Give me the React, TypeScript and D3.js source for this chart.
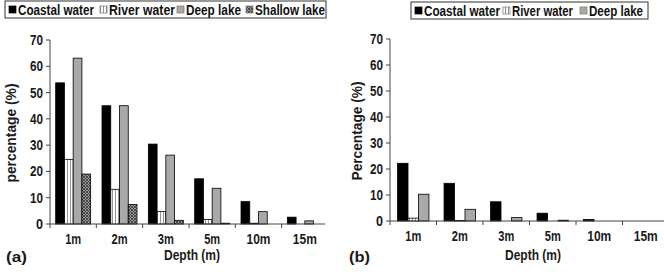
import React from "react";
import * as d3 from "d3";

const depths = ["1m", "2m", "3m", "5m", "10m", "15m"];
const yTicks = [0, 10, 20, 30, 40, 50, 60, 70];

// Panel (a)
const seriesA = ["Coastal water", "River water", "Deep lake", "Shallow lake"];
const coastalA = [53.7, 45, 30.4, 17.2, 8.5, 2.6];
const riverA = [24.6, 13.2, 4.7, 1.7, 0.3, 0];
const deepA = [63.1, 45, 26.2, 13.6, 4.7, 1.2];
const shallowA = [19, 7.4, 1.4, 0.3, 0, 0];

// Panel (b)
const seriesB = ["Coastal water", "River water", "Deep lake"];
const coastalB = [22.2, 14.5, 7.4, 3.0, 0.6, 0];
const riverB = [1.1, 0.2, 0, 0, 0, 0];
const deepB = [10.3, 4.5, 1.3, 0.3, 0, 0];

const FONT = "'Liberation Sans', Arial, sans-serif";

const fills: Record<string, string> = {
  "Coastal water": "#000",
  "River water": "url(#river)",
  "Deep lake": "#a9a9a9",
  "Shallow lake": "url(#shallow)",
};

type PanelProps = {
  series: string[];
  values: number[][];
  x0: number;
  x1: number;
  y0: number;
  yTop: number;
  axisEnd: number;
  yLabel: string;
  yLabelX: number;
  xLabelX: number;
  tag: string;
  tagX: number;
  pad: number;
};

function Panel(p: PanelProps) {
  const x = d3.scaleBand<string>().domain(depths).range([p.x0, p.x1]).padding(0);
  const sub = d3
    .scaleBand<string>()
    .domain(p.series)
    .range([0, x.bandwidth()])
    .paddingInner(0)
    .paddingOuter(p.pad);
  const y = d3.scaleLinear().domain([0, 70]).range([p.y0, p.yTop]);
  const boundaries = depths.map((d) => x(d) as number).concat([p.x1]);
  const txt = {
    fontFamily: FONT,
    fontWeight: "bold" as const,
    fill: "#1a1a1a",
  };
  return (
    <g>
      {depths.map((d, i) =>
        p.series.map((s, j) => {
          const v = p.values[j][i];
          const h = p.y0 - y(v);
          if (h <= 0) return null;
          return (
            <rect
              key={d + s}
              x={(x(d) as number) + (sub(s) as number)}
              y={y(v)}
              width={sub.bandwidth()}
              height={h}
              fill={fills[s]}
              stroke="#000"
              strokeWidth={0.8}
            />
          );
        })
      )}
      <line x1={p.x0} x2={p.x0} y1={p.yTop} y2={p.y0} stroke="#444" strokeWidth={1} />
      <line x1={p.x0} x2={p.axisEnd} y1={p.y0} y2={p.y0} stroke="#444" strokeWidth={1} />
      {yTicks.map((t) => (
        <g key={t}>
          <line x1={p.x0 - 4} x2={p.x0} y1={y(t)} y2={y(t)} stroke="#444" />
          <text
            {...txt}
            x={p.x0 - 7}
            y={y(t) + 5}
            textAnchor="end"
            fontSize={14}
            textLength={t === 0 ? 7 : 13}
            lengthAdjust="spacingAndGlyphs"
          >
            {t}
          </text>
        </g>
      ))}
      {boundaries
        .filter((b) => b <= p.axisEnd + 0.5)
        .map((b, i) => (
          <line key={i} x1={b} x2={b} y1={p.y0} y2={p.y0 + 4} stroke="#444" />
        ))}
      {depths.map((d) => (
        <text
          {...txt}
          key={d}
          x={(x(d) as number) + x.bandwidth() / 2}
          y={p.y0 + 20}
          textAnchor="middle"
          fontSize={14}
          textLength={d.length * 8}
          lengthAdjust="spacingAndGlyphs"
        >
          {d}
        </text>
      ))}
      <text
        {...txt}
        x={p.xLabelX}
        y={260}
        textAnchor="middle"
        fontSize={14}
        textLength={56}
        lengthAdjust="spacingAndGlyphs"
      >
        Depth (m)
      </text>
      <text {...txt} x={p.tagX} y={262} fontSize={15} textLength={21} lengthAdjust="spacingAndGlyphs">
        {p.tag}
      </text>
      <text
        {...txt}
        transform={`translate(${p.yLabelX},${(p.y0 + p.yTop) / 2 + 1}) rotate(-90)`}
        textAnchor="middle"
        fontSize={14}
        textLength={99}
        lengthAdjust="spacingAndGlyphs"
      >
        {p.yLabel}
      </text>
    </g>
  );
}

type LegendProps = {
  series: string[];
  x: number;
  y: number;
  w: number;
  xs: number[];
  lens: number[];
};

function Legend(l: LegendProps) {
  return (
    <g>
      <rect x={l.x} y={l.y} width={l.w} height={17} fill="#fff" stroke="#333" strokeWidth={1} />
      {l.series.map((s, i) => (
        <g key={s}>
          <rect
            x={l.xs[i]}
            y={l.y + 5}
            width={7}
            height={7}
            fill={fills[s]}
            stroke={s === "Coastal water" ? "#000" : "#777"}
            strokeWidth={0.7}
          />
          <text
            x={l.xs[i] + 9}
            y={l.y + 13.5}
            fontFamily={FONT}
            fontWeight="bold"
            fontSize={14}
            fill="#111"
            textLength={l.lens[i]}
            lengthAdjust="spacingAndGlyphs"
          >
            {s}
          </text>
        </g>
      ))}
    </g>
  );
}

export default function App() {
  return (
    <svg
      width={664}
      height={276}
      style={{ position: "absolute", left: 0, top: 0, background: "#fff" }}
    >
      <defs>
        <pattern id="river" width={3} height={4} patternUnits="userSpaceOnUse">
          <rect width={3} height={4} fill="#fff" />
          <line x1={1.5} x2={1.5} y1={0} y2={4} stroke="#888" strokeWidth={0.9} />
        </pattern>
        <pattern id="shallow" width={3} height={3} patternUnits="userSpaceOnUse">
          <rect width={3} height={3} fill="#999" />
          <path d="M0,3 L3,0 M0,0 L3,3" stroke="#333" strokeWidth={0.8} />
        </pattern>
      </defs>
      <rect width={664} height={276} fill="#fff" />
      <Legend
        series={seriesA}
        x={5}
        y={1}
        w={321}
        xs={[9, 100, 177, 246]}
        lens={[76, 66, 55, 70]}
      />
      <Legend
        series={seriesB}
        x={411}
        y={2}
        w={237}
        xs={[415, 503, 580]}
        lens={[76, 61, 54]}
      />
      <Panel
        series={seriesA}
        values={[coastalA, riverA, deepA, shallowA]}
        x0={50}
        x1={328}
        y0={224}
        yTop={40}
        axisEnd={325}
        yLabel="percentage (%)"
        yLabelX={16}
        xLabelX={192}
        tag="(a)"
        tagX={6}
        pad={0.65}
      />
      <Panel
        series={seriesB}
        values={[coastalB, riverB, deepB]}
        x0={390}
        x1={669}
        y0={221}
        yTop={39}
        axisEnd={664}
        yLabel="Percentage (%)"
        yLabelX={362}
        xLabelX={533}
        tag="(b)"
        tagX={349}
        pad={0.72}
      />
    </svg>
  );
}
